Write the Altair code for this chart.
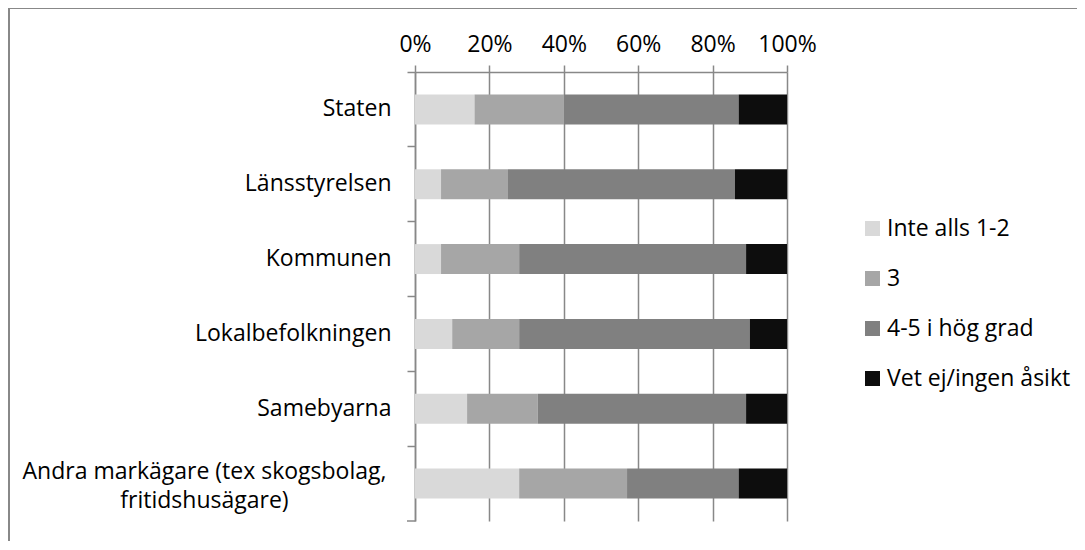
import altair as alt
import pandas as pd

categories = ["Staten", "Länsstyrelsen", "Kommunen", "Lokalbefolkningen", "Samebyarna",
              "Andra markägare (tex skogsbolag, fritidshusägare)"]
series = ["Inte alls 1-2", "3", "4-5 i hög grad", "Vet ej/ingen åsikt"]
inte_alls = [16, 7, 7, 10, 14, 28]
tre = [24, 18, 21, 18, 19, 29]
hog_grad = [47, 61, 61, 62, 56, 30]
vet_ej = [13, 14, 11, 10, 11, 13]
colors = ["#D9D9D9", "#A6A6A6", "#808080", "#0D0D0D"]

rows = []
for i, c in enumerate(categories):
    for j, (s, vals) in enumerate(zip(series, [inte_alls, tre, hog_grad, vet_ej])):
        rows.append({"kategori": c, "svar": s, "andel": vals[i] / 100, "ordning": j})
df = pd.DataFrame(rows)

W, H = 372, 449
FONT = "Open Sans"
FS = 23
GRAY = "#888888"

LONG = "Andra markägare (tex skogsbolag, fritidshusägare)"
is_long = f"datum.value == '{LONG}'"
label_expr = (f"datum.label == '{LONG}' ? "
              "['Andra markägare (tex skogsbolag,', 'fritidshusägare)'] : datum.label")

bars = alt.Chart(df).mark_bar(height={"band": 0.4}).encode(
    x=alt.X("andel:Q", stack="zero",
            scale=alt.Scale(domain=[0, 1], nice=False),
            axis=alt.Axis(orient="top", format=".0%", values=[0, 0.2, 0.4, 0.6, 0.8, 1.0],
                          title=None, grid=True, gridColor=GRAY, gridWidth=1.5,
                          domainColor=GRAY, domainWidth=1.5, tickColor=GRAY, tickWidth=1.5,
                          tickSize=7, labelPadding=9, labelFont=FONT, labelFontSize=FS,
                          labelColor="#000000", labelFlush=False, labelOverlap=False)),
    y=alt.Y("kategori:N", sort=categories,
            scale=alt.Scale(paddingInner=0, paddingOuter=0),
            axis=alt.Axis(title=None, bandPosition=0,
                          domainColor=GRAY, domainWidth=1.5, tickColor=GRAY, tickWidth=1.5,
                          tickSize=8, labelFont=FONT, labelFontSize=FS,
                          labelColor="#000000", labelLimit=0, labelLineHeight=29,
                          labelPadding=alt.ExprRef(f"{is_long} ? 203 : 16"),
                          labelAlign=alt.ExprRef(f"{is_long} ? 'center' : 'right'"),
                          labelOffset=alt.ExprRef(f"{is_long} ? -12 : 0"),
                          labelExpr=label_expr)),
    color=alt.Color("svar:N", sort=series,
                    scale=alt.Scale(domain=series, range=colors),
                    legend=alt.Legend(title=None, orient="none", legendX=446, legendY=145,
                                      symbolType="square", symbolSize=225,
                                      symbolStrokeWidth=0, labelFont=FONT, labelFontSize=FS,
                                      labelColor="#000000", rowPadding=26, padding=0,
                                      labelOffset=3, labelLimit=0)),
    order=alt.Order("ordning:Q"),
)

bottom_tick = alt.Chart(pd.DataFrame({"k": [0]})).mark_rule(color=GRAY, strokeWidth=1.5).encode(
    x=alt.value(-8), x2=alt.value(0), y=alt.value(H))

frame_left = alt.Chart(pd.DataFrame({"k": [0]})).mark_rule(color=GRAY, strokeWidth=2).encode(
    x=alt.value(-406), y=alt.value(-64), y2=alt.value(480))
frame_top = alt.Chart(pd.DataFrame({"k": [0]})).mark_rule(color=GRAY, strokeWidth=2).encode(
    x=alt.value(-407), x2=alt.value(670), y=alt.value(-64))

chart = alt.layer(bars, bottom_tick, frame_left, frame_top).properties(
    width=W, height=H,
    autosize=alt.AutoSizeParams(type="none"),
    padding={"left": 407, "top": 64, "right": 290, "bottom": 20},
).configure_view(stroke=None)

chart.save("out.html", embed_options={"renderer": "svg", "actions": False})
